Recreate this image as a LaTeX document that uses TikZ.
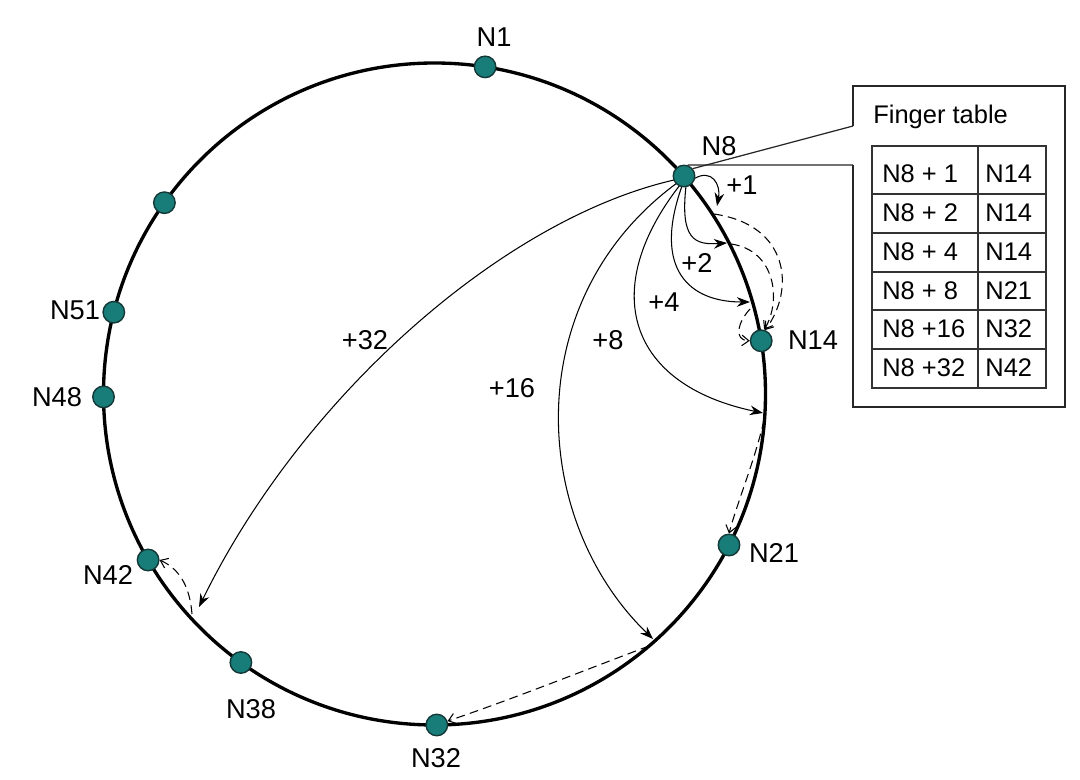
\documentclass[tikz,border=0pt]{standalone}
\usepackage{fontspec}
\setmainfont{Liberation Sans}
\usetikzlibrary{arrows.meta}
\definecolor{dotfill}{RGB}{24,125,120}
\definecolor{dotline}{RGB}{20,55,55}
\begin{document}
\begin{tikzpicture}[x=0.02cm,y=-0.02cm,
  ring/.style={line width=1.9pt},
  dot/.style={circle,fill=dotfill,draw=dotline,line width=0.8pt,minimum size=0.43cm,inner sep=0pt},
  lbl/.style={font=\fontsize{15.5}{18}\selectfont,inner sep=0pt},
  tbl/.style={font=\fontsize{14.5}{17}\selectfont,inner sep=0pt,anchor=west},
  finger/.style={line width=0.6pt,-{Stealth[length=7.5pt,width=5.5pt,inset=2.5pt]}},
  succ/.style={line width=0.6pt,dash pattern=on 5pt off 3pt,-{Straight Barb[length=4pt,width=6pt]}},
  boxline/.style={line width=0.7pt,draw=black!85},
  gridline/.style={line width=0.6pt,draw=black!80}]
\useasboundingbox (0,0) rectangle (1080,780);
% ring
\draw[ring] (434.5,394) circle[radius=331];
% points on the ring where lookups land
\coordinate (P1) at (717,206);
\coordinate (S1) at (714,214);
\coordinate (P2) at (727,243);
\coordinate (S2) at (731,244);
\coordinate (P4) at (750,302);
\coordinate (S4) at (750,309);
\coordinate (P8) at (763,413);
\coordinate (S8) at (764,420);
\coordinate (P16) at (653,639);
\coordinate (S16) at (649,646);
\coordinate (P32) at (199,607);
\coordinate (S32) at (192,614);
% finger arrows
\draw[finger] (684,176) ++(15:10.5) .. controls (712,168) and (721,185) .. (P1);
\draw[finger] (686,186) .. controls (680,240) and (695,245) .. (P2);
\draw[finger] (682,186) .. controls (652,270) and (690,302) .. (P4);
\draw[finger] (680,185) .. controls (598,290) and (628,385) .. (P8);
\draw[finger] (677,183) .. controls (518,300) and (530,520) .. (P16);
\draw[finger] (674,180) .. controls (500,220) and (300,400) .. (P32);
% nodes
\node[dot] (N1) at (485.1,66.9) {};
\node[dot] (N8) at (684,176) {};
\node[dot] (N14) at (761.2,340.8) {};
\node[dot] (N21) at (729,545) {};
\node[dot] (N32) at (436.8,725) {};
\node[dot] (N38) at (240.9,662.5) {};
\node[dot] (N42) at (148.1,560) {};
\node[dot] (N48) at (103.5,396.9) {};
\node[dot] (N51) at (113.8,312.2) {};
\node[dot] (N56) at (164.4,202.7) {};
% successor (dashed) arrows
\draw[succ] (S1) .. controls (790,225) and (795,290) .. (N14.70);
\draw[succ] (S2) .. controls (775,250) and (782,300) .. (N14.75);
\draw[succ] (S4) .. controls (738,322) and (733,340) .. (N14.west);
\draw[succ] (S8) .. controls (755,460) and (738,500) .. (N21.north);
\draw[succ] (S16) .. controls (580,672) and (510,700) .. (N32.20);
\draw[succ] (S32) .. controls (190,590) and (182,570) .. (N42.east);
% labels
\node[lbl] (lN1) at (494,37) {N1};
\node[lbl] (lN8) at (719,146) {N8};
\node[lbl] (lN14) at (813,340) {N14};
\node[lbl] (lN21) at (774,553) {N21};
\node[lbl] (lN32) at (436,758) {N32};
\node[lbl] (lN38) at (251,709) {N38};
\node[lbl] (lN42) at (108,575) {N42};
\node[lbl] (lN48) at (57,397) {N48};
\node[lbl] (lN51) at (75,310) {N51};
\node[lbl] (l1) at (742,185) {+1};
\node[lbl] (l2) at (697,263) {+2};
\node[lbl] (l4) at (664,302) {+4};
\node[lbl] (l8) at (608,340) {+8};
\node[lbl] (l16) at (512,388) {+16};
\node[lbl] (l32) at (365,340) {+32};
% finger table callout
\coordinate (B1) at (853,126);
\coordinate (B2) at (853,165);
\draw[boxline] (B1) -- (853,86) -- (1065,86) -- (1065,407) -- (853,407) -- (B2);
\draw[boxline] (N8.40) -- (B1);
\draw[boxline] (N8.72) -- (B2);
\node[tbl] (ft) at (873,117) {Finger table};
% table grid
\draw[gridline] (872,146) rectangle (1046,388);
\draw[gridline] (978,146) -- (978,388);
\foreach \yy in {194,233,272,310,349} \draw[gridline] (872,\yy) -- (1046,\yy);
\node[tbl] (a1) at (882,174) {N8 + 1};
\node[tbl] (a2) at (882,213) {N8 + 2};
\node[tbl] (a3) at (882,252) {N8 + 4};
\node[tbl] (a4) at (882,291) {N8 + 8};
\node[tbl] (a5) at (882,329) {N8 +16};
\node[tbl] (a6) at (882,368) {N8 +32};
\node[tbl] (b1) at (985,174) {N14};
\node[tbl] (b2) at (985,213) {N14};
\node[tbl] (b3) at (985,252) {N14};
\node[tbl] (b4) at (985,291) {N21};
\node[tbl] (b5) at (985,329) {N32};
\node[tbl] (b6) at (985,368) {N42};
\end{tikzpicture}
\end{document}
